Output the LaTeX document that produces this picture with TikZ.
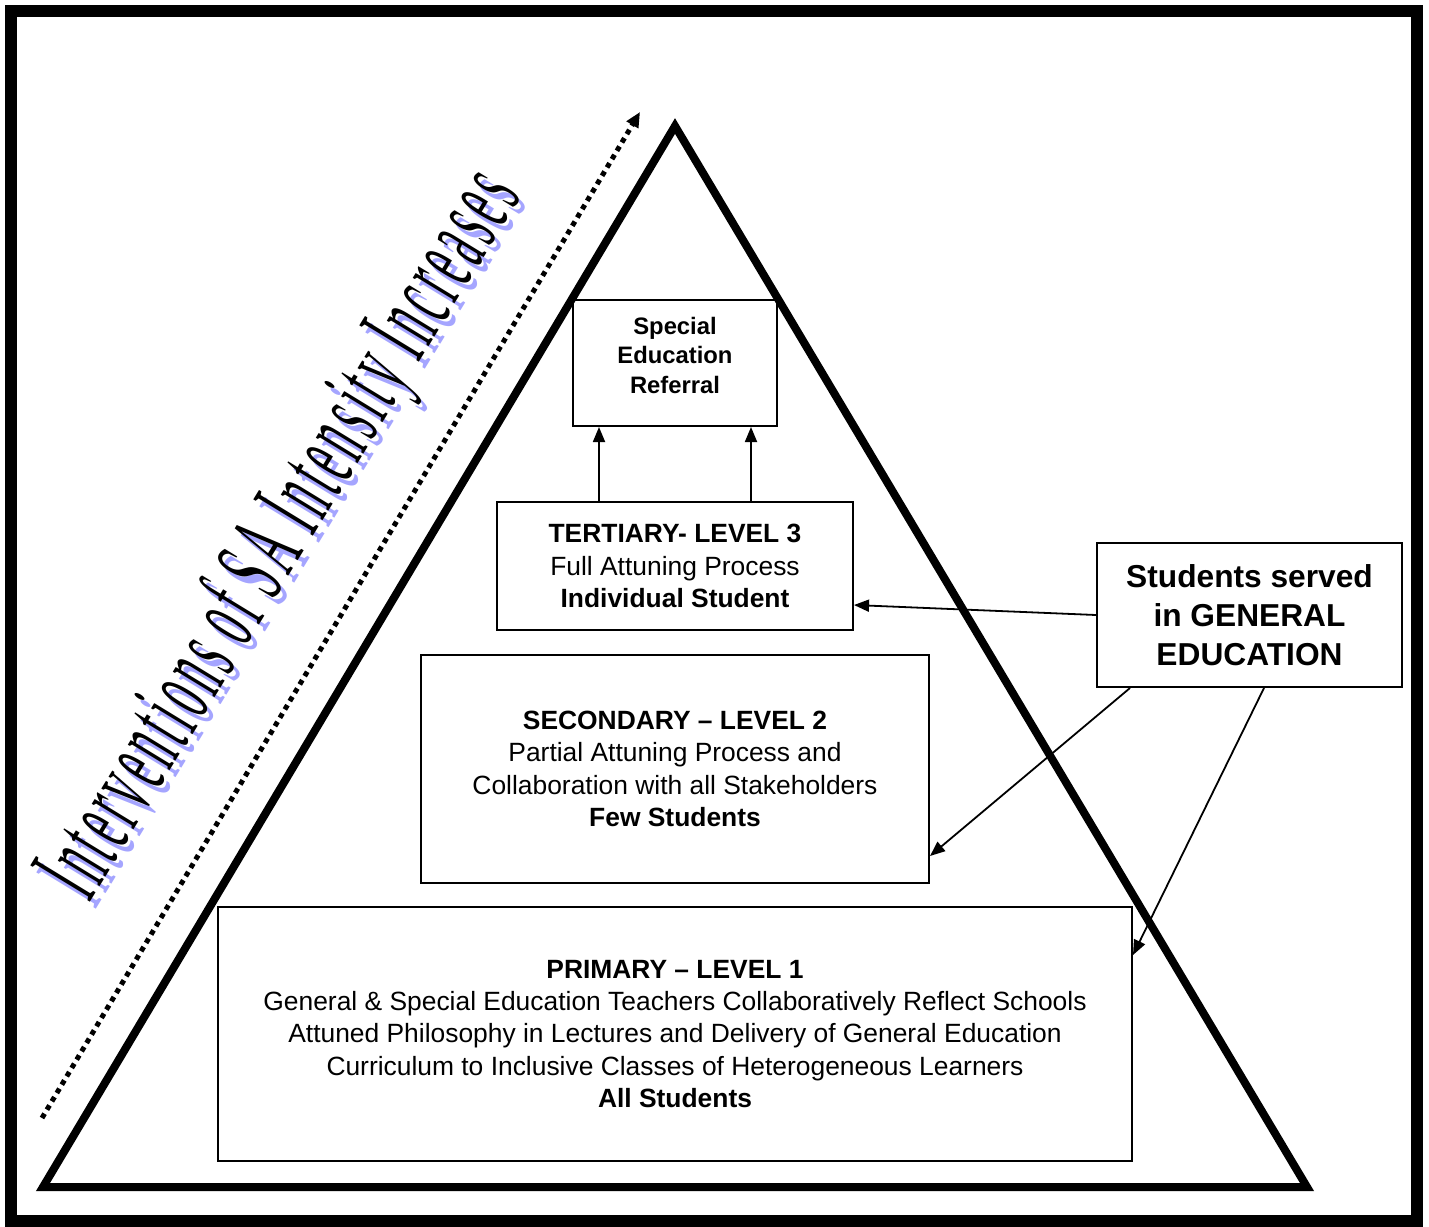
\documentclass[tikz,border=0pt]{standalone}
\usepackage{fontspec}
\setmainfont{Liberation Sans}
\newfontfamily\wordartfont[LetterSpace=12]{Liberation Serif}
\usetikzlibrary{arrows.meta}
\definecolor{shadowblue}{RGB}{165,165,255}
\begin{document}
\begin{tikzpicture}[x=1pt,y=-1pt,
  box/.style={draw, line width=2pt, rectangle, inner sep=0pt, align=center},
  bodytext/.style={font=\fontsize{26.4}{32.2}\selectfont},
  link/.style={line width=1.8pt, -{Triangle[length=15pt,width=12pt]}},
  arttext/.style={rotate=58.6, anchor=base west, inner sep=0pt},
  pyramid/.style={line width=8pt, line join=miter, miter limit=10}]
\useasboundingbox (0,0) rectangle (1429,1226);

% outer frame
\draw[line width=12pt] (11,11) rectangle (1416.5,1221);

% pyramid outline
\coordinate (apex) at (675,126);
\coordinate (baseL) at (43,1187);
\coordinate (baseR) at (1307,1187);
\draw[pyramid] (apex) -- (baseR) -- (baseL) -- cycle;

% rising intensity arrow
\coordinate (riseS) at (42,1118);
\coordinate (riseE) at (640,112);
\draw[line width=5pt, dash pattern=on 5pt off 4.7pt,
  -{Triangle[length=15pt,width=13pt]}] (riseS) -- (riseE);

% slanted title with its shadow
\node[arttext, text=shadowblue] (titleshadow) at (95,911)
  {\resizebox{830pt}{75pt}{\wordartfont Interventions of SA Intensity Increases}};
\node[arttext] (title) at (89,904)
  {\resizebox{830pt}{75pt}{\wordartfont Interventions of SA Intensity Increases}};

% levels
\node[box, minimum width=204pt, minimum height=126pt] (ref) at (675,363) {};
\node[font=\bfseries\fontsize{23.8}{29.5}\selectfont, align=center] (reftext) at (675,355)
  {Special\\Education\\Referral};

\node[box, bodytext, minimum width=356pt, minimum height=128pt] (tert) at (675,566)
  {\textbf{TERTIARY- LEVEL 3}\\Full Attuning Process\\\textbf{Individual Student}};

\node[box, bodytext, minimum width=508pt, minimum height=228pt] (sec) at (675,769)
  {\textbf{SECONDARY -- LEVEL 2}\\Partial Attuning Process and\\Collaboration with all Stakeholders\\\textbf{Few Students}};

\node[box, bodytext, minimum width=914pt, minimum height=254pt] (prim) at (675,1034)
  {\textbf{PRIMARY -- LEVEL 1}\\General \& Special Education Teachers Collaboratively Reflect Schools\\Attuned Philosophy in Lectures and Delivery of General Education\\Curriculum to Inclusive Classes of Heterogeneous Learners\\\textbf{All Students}};

\node[box, font=\bfseries\fontsize{31.7}{39}\selectfont, minimum width=305pt, minimum height=144pt] (stud) at (1249.5,615)
  {Students served\\in GENERAL\\EDUCATION};

% connectors
\draw[link] ([xshift=-76pt]tert.north) -- ([xshift=-76pt]ref.south);
\draw[link] ([xshift=76pt]tert.north) -- ([xshift=76pt]ref.south);
\draw[link] (stud.west) -- ([yshift=26pt]tert.south east);
\draw[link] ([xshift=34pt]stud.south west) -- ([yshift=28pt]sec.south east);
\draw[link] ([xshift=168pt]stud.south west) -- ([yshift=-49pt]prim.north east);
\end{tikzpicture}
\end{document}
